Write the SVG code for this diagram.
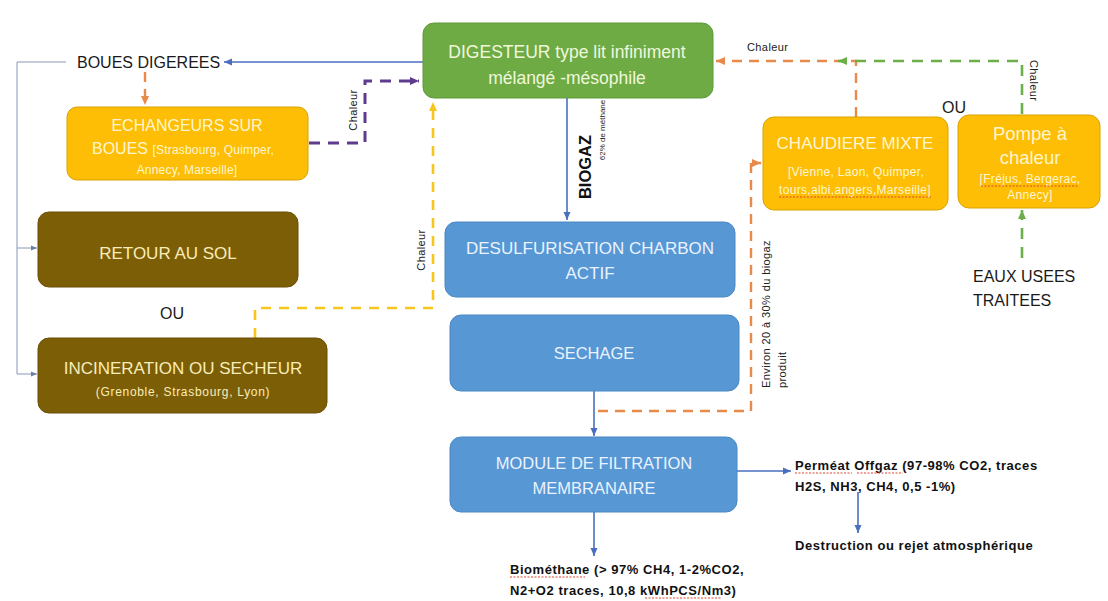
<svg xmlns="http://www.w3.org/2000/svg" width="1108" height="601" viewBox="0 0 1108 601">
  <style>
    .box-green { fill: #6EAB45; stroke: #5E9A3A; stroke-width: 1; }
    .box-amber { fill: #FDBE05; stroke: #D9A200; stroke-width: 1; }
    .box-olive { fill: #7C5E07; stroke: #6A4F05; stroke-width: 1; }
    .box-blue  { fill: #5797D4; stroke: #4A88C4; stroke-width: 1; }
    .t   { font-family: "Liberation Sans", Arial, sans-serif; }
    .in-g { fill: #F0F8DC; text-anchor: middle; }
    .in-a { fill: #FFF6D0; text-anchor: middle; }
    .in-o { fill: #F8EDB8; text-anchor: middle; }
    .in-b { fill: #EAF3FF; text-anchor: middle; }
    .ext { fill: #1a1a1a; }
    .note { font-family: "Liberation Sans", Arial, sans-serif; font-weight: bold; font-size: 13px; letter-spacing: 0.55px; fill: #111; }
    .lbl { font-family: "Liberation Sans", Arial, sans-serif; font-size: 11px; letter-spacing: 0.4px; fill: #222; }
    .flow { fill: none; stroke: #4A6FBF; stroke-width: 1.6; }
    .thin { fill: none; stroke: #8797B8; stroke-width: 1; }
    .d-orange { fill: none; stroke: #E88A4A; stroke-width: 2.4; stroke-dasharray: 10 7; }
    .d-purple { fill: none; stroke: #5F3B8E; stroke-width: 3; stroke-dasharray: 11 8; }
    .d-yellow { fill: none; stroke: #F8C51C; stroke-width: 2.6; stroke-dasharray: 10 8; }
    .d-green  { fill: none; stroke: #6CAE4A; stroke-width: 2.6; stroke-dasharray: 11 8; }
    .spell { fill: none; stroke: #E0442E; stroke-width: 1; stroke-dasharray: 2 1.5; }
  </style>
  <defs>
    <marker id="ah-blue" markerUnits="userSpaceOnUse" markerWidth="10" markerHeight="10" refX="8" refY="5" orient="auto">
      <path d="M0,1.5 L8,5 L0,8.5 z" fill="#4A6FBF"/>
    </marker>
    <marker id="ah-thin" markerUnits="userSpaceOnUse" markerWidth="8" markerHeight="8" refX="6" refY="4" orient="auto">
      <path d="M0,1.5 L6,4 L0,6.5 z" fill="#6C7FA8"/>
    </marker>
    <marker id="ah-orange" markerUnits="userSpaceOnUse" markerWidth="12" markerHeight="12" refX="9" refY="6" orient="auto">
      <path d="M0,2 L9,6 L0,10 z" fill="#E88A4A"/>
    </marker>
    <marker id="ah-purple" markerUnits="userSpaceOnUse" markerWidth="12" markerHeight="12" refX="9" refY="6" orient="auto">
      <path d="M0,2 L9,6 L0,10 z" fill="#5F3B8E"/>
    </marker>
    <marker id="ah-yellow" markerUnits="userSpaceOnUse" markerWidth="12" markerHeight="12" refX="9" refY="6" orient="auto">
      <path d="M0,2 L9,6 L0,10 z" fill="#F8C51C"/>
    </marker>
    <marker id="ah-green" markerUnits="userSpaceOnUse" markerWidth="12" markerHeight="12" refX="9" refY="6" orient="auto">
      <path d="M0,2 L9,6 L0,10 z" fill="#6CAE4A"/>
    </marker>
  </defs>

  <rect width="1108" height="601" fill="#FFFFFF"/>

  <!-- connectors -->
  <g id="connectors">
    <!-- digested sludge outlet -->
    <path class="flow" d="M423,62 L224,62" marker-end="url(#ah-blue)"/>
    <path class="thin" d="M66,62 L17,62 L17,374"/>
    <path class="thin" d="M17,248 L37,248" marker-end="url(#ah-thin)"/>
    <path class="thin" d="M17,374 L37,374" marker-end="url(#ah-thin)"/>
    <path class="d-orange" d="M145,72 L145,105" marker-end="url(#ah-orange)"/>
    <!-- heat from sludge exchangers -->
    <path class="d-purple" d="M309,143 L365,143 L365,81 L419,81" marker-end="url(#ah-purple)"/>
    <!-- heat from incineration / dryer -->
    <path class="d-yellow" d="M255,338 L255,308 L433,308 L433,102" marker-end="url(#ah-yellow)"/>
    <!-- biogas line -->
    <path class="flow" d="M567,98 L567,220" marker-end="url(#ah-blue)"/>
    <path class="flow" d="M594,391 L594,436" marker-end="url(#ah-blue)"/>
    <path class="flow" d="M594,512 L594,556" marker-end="url(#ah-blue)"/>
    <path class="flow" d="M737,471 L791,471" marker-end="url(#ah-blue)"/>
    <path class="flow" d="M858,492 L858,533" marker-end="url(#ah-blue)"/>
    <!-- biogas share to boiler -->
    <path class="d-orange" d="M598,411 L751,411 L751,163 L761,163" marker-end="url(#ah-orange)"/>
    <!-- heat return to digester -->
    <path class="d-orange" d="M856,117 L856,61 L716,61" marker-end="url(#ah-orange)"/>
    <path class="d-green" d="M1022,114 L1022,61 L838,61" marker-end="url(#ah-green)"/>
    <path class="d-green" d="M1022,258 L1022,210" marker-end="url(#ah-green)"/>

    <!-- connector labels -->
    <text class="lbl" x="747" y="51">Chaleur</text>
    <text class="lbl" transform="translate(357,110) rotate(-90)" text-anchor="middle">Chaleur</text>
    <text class="lbl" transform="translate(425,250) rotate(-90)" text-anchor="middle">Chaleur</text>
    <text class="lbl" transform="translate(1030,60) rotate(90)">Chaleur</text>
    <text class="t" font-weight="bold" font-size="16.5" fill="#111" transform="translate(591,167) rotate(-90)" text-anchor="middle">BIOGAZ</text>
    <text class="t" font-size="8" fill="#222" transform="translate(605,130) rotate(-90)" text-anchor="middle">62% de méthane</text>
    <text class="lbl" font-size="11.5" letter-spacing="0.3" transform="translate(770,388) rotate(-90)">Environ 20 à 30% du biogaz</text>
    <text class="lbl" font-size="11.5" letter-spacing="0.3" transform="translate(786,388) rotate(-90)">produit</text>
  </g>

  <!-- free labels -->
  <text class="t ext" x="77" y="68" font-size="16">BOUES DIGEREES</text>
  <text class="t ext" x="172" y="319" font-size="16" text-anchor="middle">OU</text>
  <text class="t ext" x="954" y="113" font-size="16" text-anchor="middle">OU</text>
  <g id="eaux-usees">
    <text class="t ext" x="973" y="282" font-size="16">EAUX USEES</text>
    <text class="t ext" x="973" y="306" font-size="16">TRAITEES</text>
  </g>

  <!-- nodes -->
  <g id="digesteur">
    <rect class="box-green" x="423" y="23" width="290" height="75" rx="11"/>
    <text class="t in-g" x="567" y="58" font-size="17.5">DIGESTEUR type lit infiniment</text>
    <text class="t in-g" x="567" y="84" font-size="17.5">mélangé -mésophile</text>
  </g>

  <g id="echangeurs">
    <rect class="box-amber" x="67" y="107" width="241" height="73" rx="10"/>
    <text class="t in-a" x="187" y="131" font-size="16">ECHANGEURS SUR</text>
    <text class="t in-a" x="183" y="154" font-size="16">BOUES <tspan font-size="12" letter-spacing="0.2">[Strasbourg, Quimper,</tspan></text>
    <text class="t in-a" x="187" y="174" font-size="12" letter-spacing="0.2">Annecy, Marseille]</text>
  </g>

  <g id="retour-sol">
    <rect class="box-olive" x="38" y="212" width="260" height="75" rx="11"/>
    <text class="t in-o" x="168" y="259" font-size="17">RETOUR AU SOL</text>
  </g>

  <g id="incineration">
    <rect class="box-olive" x="38" y="338" width="289" height="75" rx="11"/>
    <text class="t in-o" x="183" y="374" font-size="17">INCINERATION OU SECHEUR</text>
    <text class="t in-o" x="183" y="396" font-size="12" letter-spacing="0.7">(Grenoble, Strasbourg, Lyon)</text>
  </g>

  <g id="desulfurisation">
    <rect class="box-blue" x="445" y="222" width="290" height="75" rx="11"/>
    <text class="t in-b" x="590" y="254" font-size="17">DESULFURISATION CHARBON</text>
    <text class="t in-b" x="590" y="279" font-size="17">ACTIF</text>
  </g>

  <g id="sechage">
    <rect class="box-blue" x="450" y="315" width="289" height="76" rx="11"/>
    <text class="t in-b" x="594" y="359" font-size="16.5">SECHAGE</text>
  </g>

  <g id="module-filtration">
    <rect class="box-blue" x="450" y="437" width="287" height="75" rx="11"/>
    <text class="t in-b" x="594" y="469" font-size="16.5">MODULE DE FILTRATION</text>
    <text class="t in-b" x="594" y="494" font-size="16.5">MEMBRANAIRE</text>
  </g>

  <g id="chaudiere">
    <rect class="box-amber" x="763" y="117" width="185" height="93" rx="11"/>
    <text class="t in-a" x="855" y="149" font-size="17">CHAUDIERE MIXTE</text>
    <text class="t in-a" x="856" y="176" font-size="12" letter-spacing="0.3">[Vienne, Laon, Quimper,</text>
    <text class="t in-a" x="855" y="194" font-size="12" letter-spacing="0.3">tours,albi,angers,Marseille]</text>
    <path class="spell" d="M779,197 L931,197"/>
  </g>

  <g id="pompe-chaleur">
    <rect class="box-amber" x="958" y="115" width="142" height="93" rx="11"/>
    <text class="t in-a" x="1030" y="140" font-size="18.5">Pompe à</text>
    <text class="t in-a" x="1030" y="164" font-size="18.5">chaleur</text>
    <text class="t in-a" x="1030" y="183" font-size="12" letter-spacing="0.3">[Fréjus, Bergerac,</text>
    <text class="t in-a" x="1030" y="199" font-size="12" letter-spacing="0.3">Annecy]</text>
    <path class="spell" d="M981,186 L1079,186"/>
  </g>

  <g id="permeat">
    <text class="note" x="795" y="470">Perméat Offgaz (97-98% CO2, traces</text>
    <text class="note" x="795" y="491">H2S, NH3,  CH4, 0,5 -1%)</text>
    <path class="spell" d="M795,473 L852,473 M857,473 L903,473"/>
  </g>

  <g id="destruction">
    <text class="note" x="795" y="550">Destruction ou rejet atmosphérique</text>
  </g>

  <g id="biomethane">
    <text class="note" x="510" y="574">Biométhane (&gt; 97% CH4, 1-2%CO2,</text>
    <text class="note" x="510" y="595">N2+O2 traces, 10,8 kWhPCS/Nm3)</text>
    <path class="spell" d="M510,577 L585,577 M645,598 L722,598"/>
  </g>
</svg>
